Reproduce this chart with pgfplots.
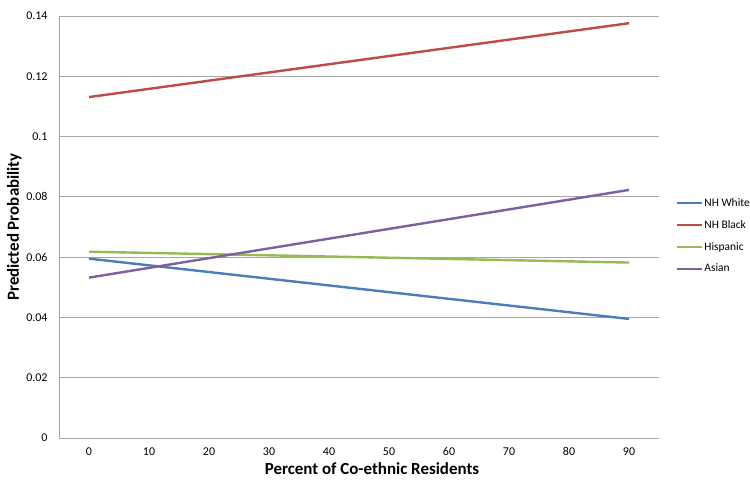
\documentclass[border=0pt]{standalone}
\usepackage{pgfplots}
\pgfplotsset{compat=1.18}
\usepackage{fontspec}
\setmainfont{Carlito}
\definecolor{cwhite}{HTML}{4A7EBB}
\definecolor{cblack}{HTML}{BE4B48}
\definecolor{chisp}{HTML}{98B954}
\definecolor{casian}{HTML}{7D60A0}
\definecolor{gridc}{HTML}{A6A6A6}
\begin{document}
\begin{tikzpicture}[x=1bp,y=1bp]
\path[use as bounding box] (0,0) rectangle (750,481);
\begin{axis}[
  at={(59bp,43bp)}, anchor=south west,
  scale only axis, width=600bp, height=422bp,
  xmin=-0.5, xmax=9.5, ymin=0, ymax=0.14,
  xtick={0,1,2,3,4,5,6,7,8,9},
  xticklabels={0,10,20,30,40,50,60,70,80,90},
  ytick={0,0.02,0.04,0.06,0.08,0.1,0.12,0.14},
  yticklabels={0,0.02,0.04,0.06,0.08,0.1,0.12,0.14},
  axis x line*=bottom, axis y line*=left,
  axis line style={gridc, line width=0.9pt, -},
  ymajorgrids, grid style={gridc, line width=0.9pt},
  major tick length=0pt,
  tick label style={font=\fontsize{12}{14}\selectfont, text=black},
  xticklabel style={yshift=-6bp},
  yticklabel style={xshift=-8bp},
  xlabel={\textbf{Percent of Co-ethnic Residents}},
  ylabel={\textbf{Predicted Probability}},
  label style={font=\fontsize{17}{19}\selectfont},
  xlabel style={inner sep=0pt, yshift=-3bp, xshift=13bp},
  ylabel style={yshift=-2bp},
  legend style={at={(1.028,0.479)}, anchor=west, draw=none, fill=none,
    font=\fontsize{11.5}{13}\selectfont, row sep=10.5bp, inner sep=0pt,
    nodes={inner sep=1bp}},
  legend cell align=left,
  legend image code/.code={\draw[#1] (0bp,0bp) -- (25bp,0bp);},
  every axis plot/.append style={line width=2.4bp},
]
\addplot[cwhite] coordinates {(0,0.0595) (9,0.0395)};
\addplot[cblack] coordinates {(0,0.1131) (9,0.1376)};
\addplot[chisp] coordinates {(0,0.0618) (9,0.0582)};
\addplot[casian] coordinates {(0,0.0532) (9,0.0823)};
\legend{NH White, NH Black, Hispanic, Asian}
\end{axis}
\end{tikzpicture}
\end{document}
